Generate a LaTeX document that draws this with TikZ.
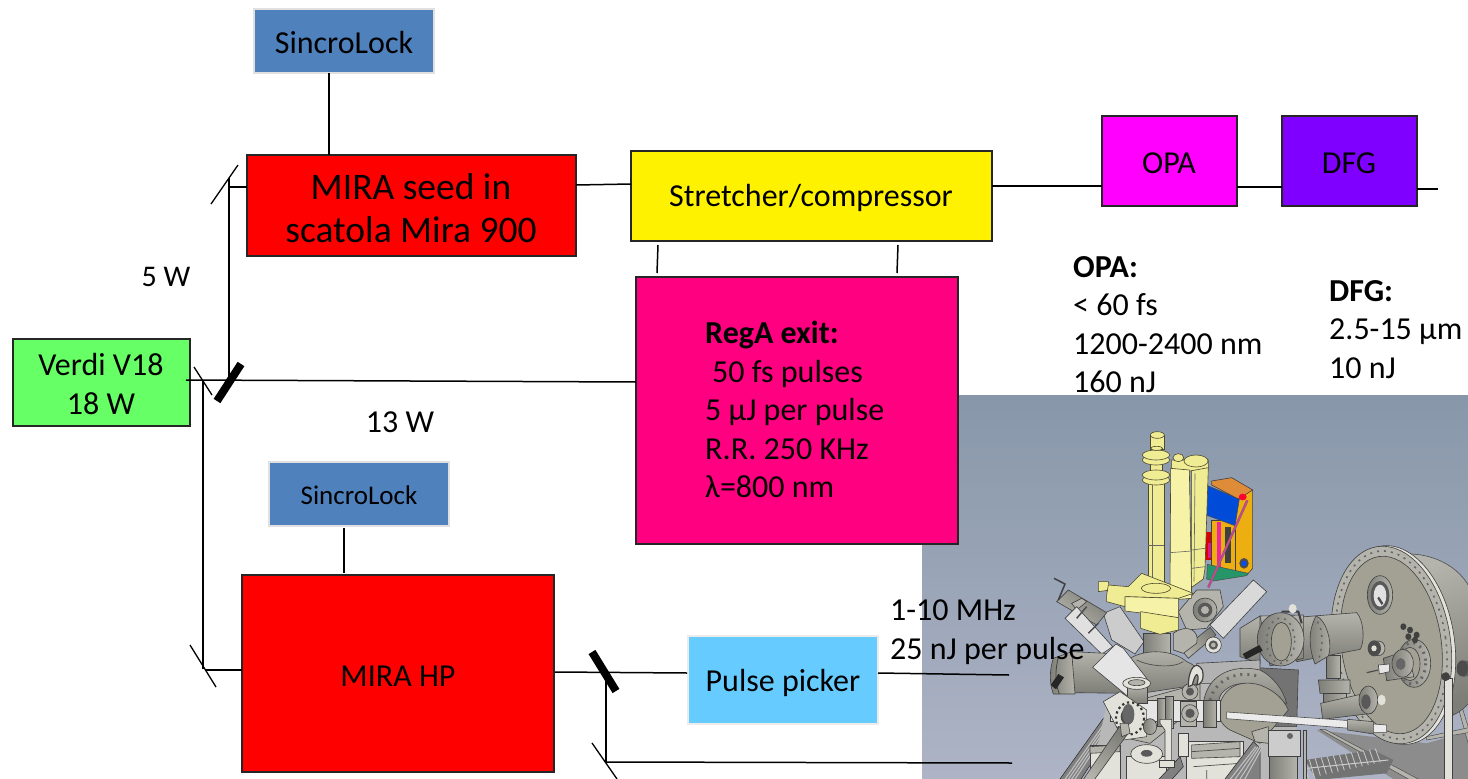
\documentclass[tikz,border=0pt]{standalone}
\usepackage{fontspec}
\setmainfont{Carlito}
\definecolor{bgtop}{HTML}{8797A9}
\definecolor{bgbot}{HTML}{AEB4C6}
\definecolor{cpink}{HTML}{FF0080}
\definecolor{cmag}{HTML}{FF00FF}
\definecolor{cviol}{HTML}{8000FF}
\definecolor{cgreen}{HTML}{66FF66}
\definecolor{cblue}{HTML}{4F81BD}
\definecolor{csky}{HTML}{66CCFF}
\definecolor{cyel}{HTML}{F0EC94}
\definecolor{cyelb}{HTML}{F6F3A8}
\definecolor{mlight}{HTML}{E2E2DA}
\definecolor{mmid}{HTML}{B4B4AC}
\definecolor{mdark}{HTML}{7E7E78}
\definecolor{mface}{HTML}{A3A194}
\definecolor{cgold}{HTML}{EDAE12}
\begin{document}
\begin{tikzpicture}[x=1pt,y=-1pt,line cap=butt,
  box/.style={draw=#1,line width=2pt,minimum width=0pt,inner sep=0pt,rectangle},
  conn/.style={draw=black,line width=1.5pt},
  thinm/.style={draw=black,line width=1.3pt},
  thickm/.style={draw=black,line width=8pt},
  txt/.style={inner sep=0pt,align=left,anchor=north west,font=\fontsize{32}{38.5}\selectfont},
  ctr/.style={inner sep=0pt,align=center,font=\fontsize{32}{38.5}\selectfont},
  zoomed/.style={x=0.33333pt,y=-0.33333pt},
  yel/.style={fill=cyel,draw=black!60!olive,line width=.6pt},
  plain/.style={fill=#1,draw=black!75,line width=.6pt},
  plain/.default=mlight,
  metal/.style={draw=black!75,line width=.6pt,top color=mmid,middle color=white!94!black,bottom color=mdark},
  metalh/.style={draw=black!75,line width=.6pt,left color=mdark,middle color=white!94!black,right color=mmid},
  darkbar/.style={fill=black!50,draw=black!85,line width=.5pt},
  ribs/.style={draw=black!70,line width=.7pt},
  bolts/.style={draw=black!80,line width=2.2pt,dash pattern=on 2.2pt off 3pt},
  rimdots/.style={draw=black!60,line width=1.6pt,dash pattern=on 2pt off 5pt}]
\useasboundingbox (0,0) rectangle (1468,779);
\fill[white] (0,0) rectangle (1468,779);

% texts that the picture partly covers
\node[txt] (opatxt) at (1073,256) {\textbf{OPA:}\\< 60 fs\\1200-2400 nm\\160 nJ};
\node[txt] (dfgtxt) at (1329,280) {\textbf{DFG:}\\2.5-15 μm\\10 nJ};

% picture of the apparatus
\shade[top color=bgtop,bottom color=bgbot] (922,395) rectangle (1468,779);
\begin{scope}
\clip (922,395) rectangle (1468,779);

% ---- right part: vessel, disc, tube
\begin{scope}[xshift=1240pt,yshift=-530pt,zoomed]
  \fill[black!45] (230,600) -- (560,640) -- (700,600) -- (700,760) -- (480,760) -- cycle;
  \draw[draw=black!70,fill=mmid,line width=.5pt] (240,598) -- (255,598) -- (540,750) -- (510,750) -- cycle;
  \fill[black!55] (195,690) -- (400,660) -- (460,690) -- (440,730) -- (230,750) -- cycle;
  \foreach \i in {0,...,12} \draw[draw=white!80!black,line width=.8pt] (205+\i*18,745-\i*4) -- (190+\i*18,692-\i*3);
  \draw[draw=white!80!black,line width=1pt] (200,715) -- (445,690);
  % far support
  \draw[draw=black!70,fill=mmid,line width=.5pt] (640,480) -- (650,480) -- (700,640) -- (690,660) -- cycle;
  \draw[draw=black!70,fill=mmid,line width=.5pt] (560,620) -- (700,590) -- (700,605) -- (560,630) -- cycle;
  % dome
  \path[metal,top color=mmid,middle color=white!88!black,bottom color=mdark,shading angle=20,draw=black!70]
     (500,72) .. controls (600,70) and (690,130) .. (705,220) -- (705,490) .. controls (690,520) and (670,540) .. (640,555) -- cycle;
  \fill[black!62] (660,395) .. controls (690,385) and (700,400) .. (695,430) .. controls (680,445) and (660,445) .. (650,425) -- cycle;
  % disc with rim thickness
  \draw[plain=mlight,rotate around={8:(466,345)}] (466,345) ellipse [x radius=178,y radius=300];
  \draw[plain=mmid,rotate around={8:(454,345)}] (454,345) ellipse [x radius=178,y radius=298];
  \draw[rimdots,rotate around={8:(454,345)}] (454,345) ellipse [x radius=164,y radius=284];
  \draw[plain=mface,rotate around={8:(454,345)}] (454,345) ellipse [x radius=150,y radius=268];
  % window
  \draw[metalh] (420,195) ellipse [x radius=38,y radius=58];
  \fill[black!65] (420,197) ellipse [x radius=28,y radius=44];
  \fill[white!88!black] (420,197) ellipse [x radius=19,y radius=33];
  \fill[black!70] (412,205) -- (425,225) -- (430,220) -- (417,200) -- cycle;
  % small port
  \draw[plain=mmid] (415,355) ellipse [x radius=20,y radius=22];
  \fill[black!70] (403,355) ellipse [x radius=20,y radius=24];
  \fill[mlight] (402,355) ellipse [x radius=8,y radius=9];
  % front flange
  \draw[metalh] (522,400) ellipse [x radius=50,y radius=72];
  \draw[rimdots,line width=3pt] (515,400) ellipse [x radius=42,y radius=62];
  \draw[plain=mface] (510,402) ellipse [x radius=30,y radius=50];
  \draw[metalh] (430,385) -- (500,362) -- (522,440) -- (440,452) -- cycle;
  \draw[metalh] (488,400) ellipse [x radius=32,y radius=42];
  \fill[black!60] (482,402) ellipse [x radius=14,y radius=18];
  \draw[plain=white!90!black] (415,405) -- (448,402) -- (448,425) -- (418,432) -- cycle;
  \draw[black!70,line width=1.2pt] (380,428) -- (415,420);
  \foreach \p/\q in {490/290,510/300,530/315,505/320,525/330} \fill[black!75] (\p,\q) circle [x radius=9,y radius=10];
  % bolt on post
  \draw[plain=mlight] (612,445) rectangle (636,760);
  \fill[black!75] (617,440) ellipse [x radius=13,y radius=13];
  \fill[black!70] (667,415) ellipse [x radius=17,y radius=24];
  % vertical support
  \draw[metalh] (258,375) rectangle (300,445);
  \draw[metalh] (235,450) -- (330,450) -- (330,490) -- (240,490) -- cycle;
  \draw[metalh] (250,490) rectangle (320,525);
  % lower cylinder
  \draw[metal] (242,520) -- (375,490) -- (395,550) -- (248,568) -- cycle;
  \draw[metalh] (385,510) ellipse [x radius=28,y radius=42];
  \fill[black!65] (378,515) ellipse [x radius=14,y radius=22];
  \fill[mlight] (425,510) ellipse [x radius=12,y radius=16];
  % main tube
  \draw[metal] (170,262) -- (350,248) .. controls (372,270) and (375,340) .. (360,358) -- (170,395) -- cycle;
  \draw[metalh] (228,258) .. controls (255,265) and (280,335) .. (265,378) -- (225,402) .. controls (205,350) and (205,300) .. (228,258) -- cycle;
  \draw[rimdots] (232,275) .. controls (250,300) and (250,350) .. (235,390);
  \draw[metal] (0,295) -- (60,258) -- (60,400) -- (0,380) -- cycle;
  \draw[metal] (60,258) -- (190,255) -- (190,385) -- (90,408) -- cycle;
  \draw[metalh] (122,328) ellipse [x radius=70,y radius=80];
  \draw[rimdots] (122,332) ellipse [x radius=42,y radius=68];
  \draw[plain=mface] (124,335) ellipse [x radius=30,y radius=58];
  \draw[black!75,line width=2pt] (125,245) -- (175,245) -- (185,280);
  \fill[mlight] (158,236) circle [x radius=12,y radius=14];
  \fill[black!85] (8,372) -- (58,345) -- (68,362) -- (18,388) -- cycle;
  % bars
  \fill[black!55,draw=black!85,line width=.5pt] (0,680) -- (78,640) -- (78,700) -- (35,760) -- (0,760) -- cycle;
  \foreach \i in {0,...,3} \draw[black!25,line width=1.2pt] (\i*18,760) -- (\i*18+50,665);
\end{scope}

% ---- centre part: chamber, ports, frame
\begin{scope}[xshift=1040pt,yshift=-570pt,zoomed]
  % frame
  \draw[darkbar] (60,627) -- (190,445) -- (225,470) -- (115,640) -- cycle;
  \foreach \i in {1,...,4} \draw[black!25,line width=1.1pt] (60+\i*10,635) -- (190+\i*7,455);
  % mass behind the apparatus
  \fill[black!28] (200,400) -- (470,280) -- (660,290) -- (770,460) -- (770,640) -- (150,640) -- cycle;
  \draw[plain=mlight] (150,525) rectangle (240,640);
  \draw[plain=mmid] (150,530) -- (240,525) -- (240,545) -- (150,550) -- cycle;
  \draw[plain=mlight] (260,560) rectangle (380,640);
  \draw[plain=mlight] (440,515) -- (610,515) -- (610,640) -- (440,640) -- cycle;
  \draw[plain=mmid] (455,525) -- (600,515) -- (600,560) -- (455,565) -- cycle;
  \draw[ribs] (455,545) -- (600,535) (460,590) -- (600,580) (500,600) -- (500,640);
  \draw[darkbar] (345,640) -- (420,560) -- (430,590) -- (385,640) -- cycle;
  \draw[darkbar] (545,640) -- (640,515) -- (660,535) -- (660,640) -- cycle;
  \foreach \i in {1,...,4} \draw[black!25,line width=1.1pt] (550+\i*15,635) -- (640+\i*7,530);
  % rear housing
  \draw[plain=black!55] (600,290) -- (775,300) -- (770,470) -- (600,470) -- cycle;
  \draw[plain=black!30] (470,280) -- (660,270) -- (660,340) -- (470,340) -- cycle;
  % big ring and its grey face
  \draw[metal] (490,400) .. controls (500,320) and (570,280) .. (660,300) .. controls (700,320) and (730,360) .. (740,400) -- (700,390) .. controls (660,340) and (590,320) .. (545,370) .. controls (535,385) and (535,400) .. (535,420) -- cycle;
  \draw[rimdots,line width=3pt] (510,390) .. controls (525,335) and (580,300) .. (655,318);
  \draw[plain=mface] (535,420) .. controls (545,360) and (590,325) .. (660,345) .. controls (700,360) and (730,385) .. (745,420) -- (660,520) -- (570,480) .. controls (545,465) and (535,445) .. (535,420) -- cycle;
  % upper-left ports
  \draw[plain=black!20] (190,130) -- (240,110) -- (312,215) -- (285,252) -- (215,210) -- cycle;
  \draw[metalh,shading angle=-40] (50,95) -- (85,60) -- (200,128) -- (170,165) -- cycle;
  \draw[plain=mmid] (95,100) -- (125,85) -- (140,95) -- (110,120) -- cycle;
  \draw[plain=white!88!black] (75,145) -- (110,110) -- (218,230) -- (185,252) -- cycle;
  \draw[black!70,line width=1.5pt] (110,145) -- (140,110) (145,190) -- (175,160);
  \draw[black!75,line width=1.5pt] (42,25) -- (75,42) -- (55,90);
  % upper-right parts
  \draw[plain=mmid] (415,125) -- (470,60) -- (540,60) -- (550,110) -- (500,175) -- (440,180) -- cycle;
  \draw[metalh] (495,120) ellipse [x radius=36,y radius=36];
  \fill[black!65] (495,120) ellipse [x radius=22,y radius=22];
  \fill[mmid] (495,120) ellipse [x radius=12,y radius=12];
  \draw[plain=black!15] (510,165) -- (640,30) -- (680,65) -- (550,205) -- cycle;
  \draw[metalh,shading angle=-50] (425,240) -- (510,172) -- (528,195) -- (445,265) -- cycle;
  \draw[plain=mlight] (520,225) ellipse [x radius=24,y radius=24];
  \fill[black!65] (520,225) ellipse [x radius=14,y radius=14];
  \fill[mmid] (520,225) ellipse [x radius=7,y radius=7];
  % neck, body, left tube
  \draw[plain=mmid] (400,190) .. controls (440,160) and (480,180) .. (470,220) -- (430,250) -- (400,240) -- cycle;
  \draw[metalh] (310,190) -- (390,190) -- (390,262) -- (310,262) -- cycle;
  \draw[metal] (95,245) -- (240,252) -- (270,370) -- (100,368) -- cycle;
  \draw[metal] (270,265) .. controls (320,235) and (400,240) .. (440,275) .. controls (480,290) and (485,320) .. (470,345) -- (270,375) -- (240,300) -- cycle;
  \draw[black!70,line width=.7pt] (290,270) .. controls (330,290) and (400,295) .. (430,275);
  \draw[metalh] (40,265) -- (95,245) -- (105,372) -- (40,372) .. controls (28,340) and (28,300) .. (40,265) -- cycle;
  \draw[black!75,line width=.8pt] (55,262) .. controls (45,300) and (45,340) .. (58,372);
  \fill[black!85] (32,345) -- (55,312) -- (72,322) -- (48,358) -- cycle;
  \draw[plain=white!90!black] (158,292) -- (228,222) -- (250,235) -- (320,325) -- (262,378) -- cycle;
  % front cross
  \draw[plain=mmid] (262,400) -- (480,340) -- (480,400) -- (330,520) -- (240,500) -- cycle;
  \draw[plain=white!90!black] (210,392) -- (540,392) -- (540,455) -- (210,455) -- cycle;
  \draw[metal] (262,345) -- (322,345) -- (322,400) -- (262,400) -- cycle;
  \draw[plain=mlight] (290,340) ellipse [x radius=42,y radius=18];
  \draw[plain=mmid] (290,338) ellipse [x radius=25,y radius=9];
  \draw[plain=mlight] (190,395) -- (240,365) -- (320,420) -- (320,500) -- (250,510) -- cycle;
  \draw[bolts] (270,445) ellipse [x radius=42,y radius=48];
  \fill[black!70] (262,440) ellipse [x radius=20,y radius=24];
  \draw[metalh] (330,470) ellipse [x radius=20,y radius=24];
  \draw[metalh] (352,385) rectangle (375,470);
  \draw[metalh] (375,380) rectangle (400,475);
  \draw[metalh] (490,390) rectangle (530,472);
  \draw[plain=mlight] (360,448) -- (395,448) -- (395,590) -- (375,590) -- (375,480) -- (360,460) -- cycle;
  \draw[plain=mlight] (358,572) rectangle (402,592);
  \draw[plain=mmid] (420,395) -- (470,395) -- (470,470) -- (420,470) -- cycle;
  \draw[plain=mmid] (450,430) ellipse [x radius=25,y radius=26];
  \fill[black!65] (450,430) ellipse [x radius=14,y radius=14];
  \draw[plain=mmid] (450,365) ellipse [x radius=24,y radius=24];
  \fill[black!65] (450,365) ellipse [x radius=12,y radius=12];
  \draw[black!75,line width=1.2pt,fill=mlight] (445,350) .. controls (445,290) and (470,270) .. (487,300) .. controls (495,330) and (480,345) .. (470,345) .. controls (480,320) and (470,290) .. (457,345) -- cycle;
  \draw[plain=mlight] (415,490) rectangle (445,560);
  % pipe and lower ring
  \draw[plain=mlight] (320,552) ellipse [x radius=48,y radius=28];
  \fill[black!65] (320,550) ellipse [x radius=18,y radius=10];
  \draw[metalh,shading angle=-35] (238,470) -- (268,485) -- (155,640) -- (122,640) -- cycle;
  \fill[black!60] (265,432) ellipse [x radius=18,y radius=30];
  \draw[plain=mmid] (240,460) -- (265,460) -- (270,490) -- (245,500) -- cycle;
\end{scope}

% ---- block and rod in front of the housing
\begin{scope}[xshift=1240pt,yshift=-530pt,zoomed]
  \draw[plain=black!20] (85,600) -- (180,600) -- (180,680) -- (85,680) -- cycle;
  \draw[metalh] (88,680) rectangle (172,760);
  \draw[plain=mmid] (35,605) -- (85,590) -- (85,640) -- (45,635) -- cycle;
  \fill[black!60] (150,618) circle [x radius=9,y radius=9];
  \draw[plain=mmid] (190,600) rectangle (200,760);
  \draw[draw=black!70,fill=white!92!black,line width=.6pt] (-40,546) -- (330,572) -- (330,595) -- (-40,566) -- cycle;
  \draw[metal] (323,568) -- (400,575) -- (400,612) -- (323,600) -- cycle;
  \draw[draw=black!70,fill=white!92!black,line width=.6pt] (400,582) -- (440,585) -- (440,607) -- (400,607) -- cycle;
\end{scope}

% ---- yellow assembly
\begin{scope}[xshift=1110pt,yshift=-425pt,zoomed]
  \draw[plain=cgold] (375,215) -- (428,195) -- (428,430) -- (415,445) -- (375,445) -- cycle;
  \fill[red!85!black] (283,322) rectangle (308,405);
  \fill[magenta!80!violet] (295,355) rectangle (308,400);
  \draw[plain=cgold] (305,285) rectangle (375,440);
  \fill[magenta!85] (320,292) rectangle (332,425);
  \fill[black!75] (345,305) rectangle (362,415);
  \draw[draw=black!70,fill=teal!75!green!70!gray,line width=.5pt] (292,418) -- (415,445) -- (410,452) -- (310,468) -- (290,462) -- cycle;
  \fill[black!70] (402,415) ellipse [x radius=14,y radius=16];
  \fill[blue!70!cyan] (402,415) ellipse [x radius=7,y radius=8];
  \draw[draw=black!70,fill=blue!65!cyan!85!black,line width=.6pt] (288,180) -- (388,222) -- (375,302) -- (288,270) -- cycle;
  \draw[plain=brown!55!orange!90!white] (305,168) -- (365,158) -- (428,195) -- (385,222) -- (305,180) -- cycle;
  \draw[black!60,line width=2.4pt] (295,487) -- (412,226);
  \draw[magenta!65!violet!85!white,line width=1.6pt] (295,487) -- (412,226);
  \fill[red!80!magenta] (398,216) circle [x radius=12,y radius=10];
  % third pillar
  \draw[yel] (245,130) -- (295,125) -- (285,430) -- (280,462) -- (245,487) -- cycle;
  \draw[black!60,line width=.6pt] (255,145) -- (252,470) (245,375) -- (285,370) (245,430) -- (285,425);
  % cap
  \draw[yel] (185,105) -- (295,105) -- (295,128) -- (240,138) -- (185,135) -- cycle;
  \draw[yel] (258,108) ellipse [x radius=36,y radius=18];
  \draw[yel] (205,98) ellipse [x radius=16,y radius=12];
  % second pillar
  \draw[yel,fill=cyelb] (182,130) -- (238,135) -- (245,520) -- (180,525) -- cycle;
  \draw[black!60,line width=.6pt] (180,383) -- (245,378);
  % post
  \draw[yel] (115,170) rectangle (162,490);
  \draw[black!60,line width=.6pt] (115,360) -- (162,360) (128,170) -- (128,480);
  \draw[yel] (122,105) rectangle (158,150);
  \draw[yel] (138,165) ellipse [x radius=41,y radius=15];
  \draw[yel] (138,150) ellipse [x radius=41,y radius=15];
  \draw[yel] (122,60) rectangle (158,90);
  \draw[yel] (138,105) ellipse [x radius=41,y radius=15];
  \draw[yel] (138,90) ellipse [x radius=41,y radius=15];
  \draw[yel] (122,30) rectangle (162,72);
  \draw[yel] (142,30) ellipse [x radius=21,y radius=10];
  \draw[yel] (140,70) ellipse [x radius=18,y radius=6];
  % base
  \draw[yel] (-35,470) -- (-5,470) -- (0,495) -- (-35,500) -- cycle;
  \draw[yel] (-10,510) -- (-5,480) -- (55,485) -- (95,445) -- (250,505) -- (205,520) -- (50,515) -- (45,545) -- (-10,530) -- cycle;
  \draw[yel] (138,490) ellipse [x radius=44,y radius=15];
  \draw[yel,fill=cyelb] (45,515) -- (205,520) -- (205,578) -- (45,558) -- cycle;
  \draw[yel] (92,560) -- (205,578) -- (205,615) -- (150,628) -- (92,610) -- cycle;
\end{scope}
\end{scope}

% boxes
\node[box=black!85,fill=cpink,minimum width=322pt,minimum height=267pt] (rega) at (797,410.5) {};
\node[box=black!85,fill=red,minimum width=329pt,minimum height=101pt] (seed) at (411.5,205.5) {};
\node[box=black!85,fill=red,minimum width=312pt,minimum height=197pt] (hp) at (398,673.5) {};
\node[box=black!85,fill=yellow,minimum width=361pt,minimum height=90pt] (stretch) at (811.5,196) {};
\node[box=black!85,fill=cmag,minimum width=135pt,minimum height=90pt] (opa) at (1169.5,161) {};
\node[box=black!85,fill=cviol,minimum width=135pt,minimum height=90pt] (dfg) at (1349.5,161) {};
\node[box=black!85,fill=cgreen,minimum width=177pt,minimum height=87pt] (verdi) at (101.5,382.5) {};
\node[box=black!12,fill=cblue,minimum width=180pt,minimum height=64pt] (sl1) at (344,41) {};
\node[box=black!12,fill=cblue,minimum width=180pt,minimum height=64pt] (sl2) at (359,494) {};
\node[box=orange!10!black!8,fill=csky,minimum width=190pt,minimum height=88pt] (picker) at (783,680) {};

% free ends and bends
\coordinate (dfgend) at (1438,189);
\coordinate (splitA) at (229,379);
\coordinate (topbend) at (229,178);
\coordinate (verdiout) at (186,380);
\coordinate (splitB) at (203,380);
\coordinate (lowbend) at (203,669);
\coordinate (hpsplit) at (606,672);
\coordinate (hpbend) at (606,762);
\coordinate (end1) at (1009,675);
\coordinate (end2) at (1012,763);

% connectors
\draw[conn] (329,73) -- (329,155);
\draw[conn] (576,185) -- (631,184);
\draw[conn] (992,186) -- (1102,186);
\draw[conn] (1237,187) -- (1282,187);
\draw[conn] (1417,189) -- (dfgend);
\draw[conn] (658,245) -- (657,273);
\draw[conn] (898,245) -- (897,273);
\draw[conn] (verdiout) -- (636,382);
\draw[conn] (splitA) -- (topbend);
\draw[conn] (229,187) -- (247,187);
\draw[conn] (splitB) -- (lowbend);
\draw[conn] (206,670) -- (242,670);
\draw[conn] (344,528) -- (344,573);
\draw[conn] (555,672) -- (687,673);
\draw[conn] (hpsplit) -- (hpbend);
\draw[conn] (hpbend) -- (end2);
\draw[conn] (878,673) -- (end1);

% mirrors
\draw[thinm] (211,204) -- (238,165);
\draw[thinm] (194,367) -- (212,395);
\draw[thinm] (190,645) -- (216,687);
\draw[thinm] (592,743) -- (617,779);
\draw[thickm] (217,401) -- (241,364);
\draw[thickm] (592,652) -- (616,691);

% labels
\node[ctr] (l1) at (344,42) {SincroLock};
\node[ctr,font=\fontsize{27}{30}\selectfont] (l2) at (359,495) {SincroLock};
\node[ctr,font=\fontsize{37.5}{43}\selectfont] (l3) at (411,208) {MIRA seed in\\scatola Mira 900};
\node[ctr] (l4) at (811,198) {Stretcher/compressor};
\node[ctr] (l5) at (1169,163) {OPA};
\node[ctr] (l6) at (1349,163) {DFG};
\node[ctr] (l7) at (101,384) {Verdi V18\\18 W};
\node[ctr] (l8) at (398,676) {MIRA HP};
\node[ctr] (l9) at (783,683) {Pulse picker};
\node[ctr,font=\fontsize{30}{36}\selectfont] (l10) at (166,277) {5 W};
\node[ctr] (l11) at (400,422) {13 W};
\node[txt] (regatxt) at (705,321) {\textbf{RegA exit:}\\\hspace*{7pt}50 fs pulses\\5 μJ per pulse\\R.R. 250 KHz\\λ=800 nm};
\node[txt] (rep) at (890,600) {1-10 MHz\\25 nJ per pulse};
\end{tikzpicture}
\end{document}
